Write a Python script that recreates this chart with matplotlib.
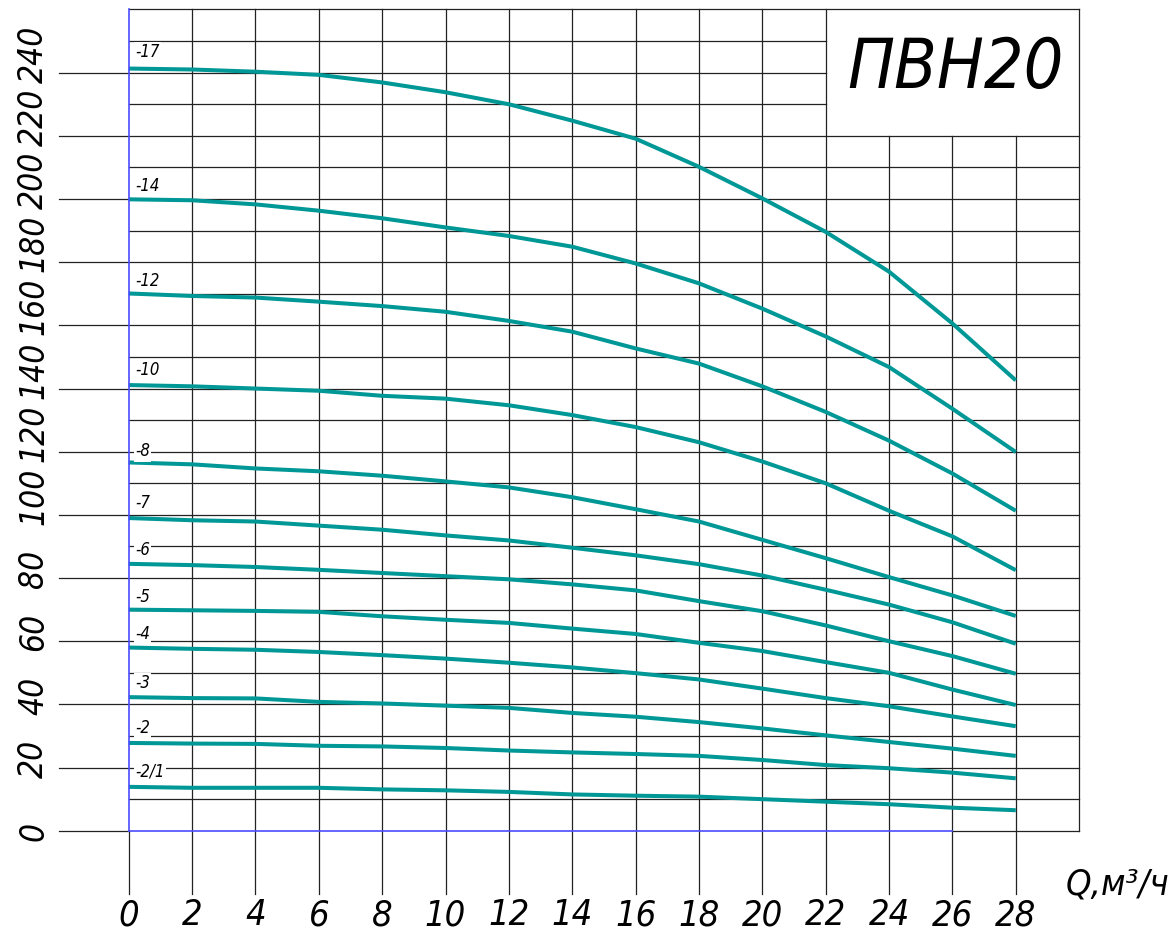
import numpy as np
import matplotlib
matplotlib.use('Agg')
import matplotlib.pyplot as plt

# Data: flow Q (m3/h) and head for each pump variant
q = [0, 2, 4, 6, 8, 10, 12, 14, 16, 18, 20, 22, 24, 26, 28]

h17 = [241.3, 241.0, 240.3, 239.3, 236.9, 233.8, 230.0, 224.8, 219.1, 210.2, 200.2, 189.6, 177.0, 160.6, 142.6]
h14 = [199.9, 199.6, 198.3, 196.3, 193.9, 191.0, 188.3, 184.9, 179.6, 173.3, 165.3, 156.5, 146.8, 133.6, 119.9]
h12 = [170.1, 169.3, 168.8, 167.5, 166.1, 164.3, 161.4, 158.0, 152.7, 147.9, 140.7, 132.6, 123.5, 113.1, 101.3]
h10 = [141.1, 140.7, 140.0, 139.3, 137.7, 136.8, 134.7, 131.6, 127.8, 123.0, 116.9, 110.0, 101.3, 93.2, 82.5]
h8 = [116.6, 116.0, 114.7, 113.8, 112.4, 110.6, 108.7, 105.6, 101.8, 97.9, 92.1, 86.3, 80.3, 74.5, 68.0]
h7 = [99.0, 98.3, 97.9, 96.6, 95.3, 93.5, 91.9, 89.6, 87.2, 84.4, 80.8, 76.3, 71.6, 66.0, 59.2]
h6 = [84.5, 84.1, 83.5, 82.6, 81.6, 80.6, 79.6, 78.0, 76.1, 72.7, 69.5, 65.0, 60.0, 55.3, 49.7]
h5 = [70.0, 69.8, 69.6, 69.3, 67.9, 66.8, 65.8, 64.0, 62.3, 59.5, 56.9, 53.4, 50.0, 44.7, 39.8]
h4 = [58.0, 57.6, 57.3, 56.6, 55.6, 54.5, 53.2, 51.7, 49.9, 47.9, 45.0, 42.0, 39.4, 36.2, 33.1]
h3 = [42.3, 42.0, 41.9, 40.8, 40.3, 39.6, 38.9, 37.3, 36.1, 34.4, 32.4, 30.2, 28.1, 26.0, 23.7]
h2 = [27.8, 27.6, 27.5, 26.9, 26.7, 26.2, 25.4, 24.8, 24.3, 23.7, 22.4, 20.8, 19.8, 18.4, 16.6]
h2_1 = [13.9, 13.6, 13.6, 13.6, 13.1, 12.8, 12.3, 11.5, 11.1, 10.8, 10.0, 9.2, 8.4, 7.3, 6.5]

curve_names = ['-17', '-14', '-12', '-10', '-8', '-7', '-6', '-5', '-4', '-3', '-2', '-2/1']
curves = [h17, h14, h12, h10, h8, h7, h6, h5, h4, h3, h2, h2_1]
label_y = [246.4, 204.0, 174.2, 146.0, 120.1, 103.7, 88.8, 74.0, 62.2, 46.7, 32.5, 18.7]

x_ticks = list(range(0, 29, 2))
y_ticks = list(range(0, 241, 20))

title = 'ПВН20'
x_label = 'Q,м³/ч'

# narrow slanted font, closest to the drafting font of the original
TXT = dict(family='DejaVu Sans', fontstretch='condensed', style='oblique')
TEAL = '#009896'
BLUE = '#4b4bff'
GRID = '#222222'

fig = plt.figure(figsize=(11.71, 9.35), dpi=100)
ax = fig.add_axes([0, 0, 1, 1])
ax.set_xlim(-4.062, 32.90)
ax.set_ylim(-33.0, 263.0)
ax.axis('off')

# horizontal grid lines (every 10), title box cuts the top right corner
for y in range(0, 261, 10):
    x_start = -2.2 if (y % 20 == 0 and y <= 240) else 0
    x_end = 22 if 220 < y < 260 else 30
    if y == 0:
        ax.plot([x_start, 0], [0, 0], color=GRID, lw=0.9)
        ax.plot([26, 30], [0, 0], color=GRID, lw=0.9)
        ax.plot([0, 26], [0, 0], color=BLUE, lw=1.2, zorder=4)
    else:
        ax.plot([x_start, x_end], [y, y], color=GRID, lw=0.9)

# vertical grid lines (every 2)
for x in range(0, 31, 2):
    y_start = 0 if x == 30 else -20
    y_end = 220 if x in (24, 26, 28) else 260
    if x == 0:
        ax.plot([0, 0], [-20, 0], color=GRID, lw=0.9)
        ax.plot([0, 0], [0, 260], color=BLUE, lw=1.2, zorder=4)
    else:
        ax.plot([x, x], [y_start, y_end], color=GRID, lw=0.9)

# pump curves
for name, h, ly in zip(curve_names, curves, label_y):
    ax.plot(q, h, color=TEAL, lw=2.9, solid_capstyle='butt', zorder=3)
    ax.text(0.2, ly, name, fontsize=12, ha='left', va='center', zorder=5,
            bbox=dict(facecolor='white', edgecolor='none', pad=1), **TXT)

# axis tick labels
for v in y_ticks:
    ax.text(-3.0, v - 3.2, str(v), fontsize=24, rotation=90,
            ha='center', va='bottom', **TXT)
for v in x_ticks:
    ax.text(v, -26.7, str(v), fontsize=26, ha='center', va='center', **TXT)

ax.text(31.2, -17.1, x_label, fontsize=26, ha='center', va='center', **TXT)

# title in the box
ax.text(26.1, 241.3, title, fontsize=50, ha='center', va='center', **TXT)

fig.savefig('out.png', dpi=100)
